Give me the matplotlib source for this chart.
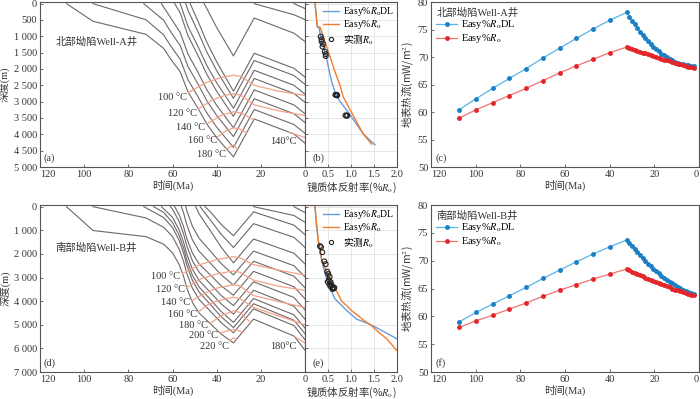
import numpy as np
import matplotlib
matplotlib.use("Agg")
import matplotlib.pyplot as plt
from matplotlib.lines import Line2D
from matplotlib.ticker import FuncFormatter

plt.rcParams['font.family'] = ['Liberation Serif', 'Noto Sans CJK SC']
plt.rcParams['mathtext.fontset'] = 'stix'
plt.rcParams['font.size'] = 7.5
plt.rcParams['axes.unicode_minus'] = False

CJK = 'Noto Sans CJK SC'

# ---------------- (a) Well-A burial history (time Ma, depth m)
a_times = [
    [108, 96, 72, 64, 61, 56.5, 53, 48.3, 44.5, 40, 32.4, 23, 5, 0],
    [96, 72, 64, 61, 56.5, 53, 48.3, 44.5, 40, 32.4, 23, 5, 0],
    [73, 64, 61, 56.5, 53, 48.3, 44.5, 40, 32.4, 23, 5, 0],
    [65, 61, 56.5, 53, 48.3, 44.5, 40, 32.4, 23, 5, 0],
    [59, 56.5, 53, 48.3, 44.5, 40, 32.4, 23, 5, 0],
    [56.5, 53, 48.3, 44.5, 40, 32.4, 23, 5, 0],
    [54, 53, 48.3, 44.5, 40, 32.4, 23, 5, 0],
    [52, 48.3, 44.5, 40, 32.4, 23, 5, 0],
    [45.7, 44.5, 40, 32.4, 23, 5, 0],
    [23, 5, 0],
    [5, 0],
]
a_depths = [
    [0, 540, 940, 1370, 1680, 2090, 2700, 3220, 3680, 4100, 4690, 3530, 3990, 4270],
    [0, 494, 956, 1278, 1705, 2329, 2868, 3342, 3780, 4400, 3240, 3700, 3970],
    [0, 509, 842, 1286, 1923, 2479, 2968, 3422, 4070, 2910, 3370, 3640],
    [0, 416, 886, 1542, 2122, 2632, 3111, 3800, 2640, 3100, 3370],
    [0, 286, 978, 1608, 2157, 2682, 3450, 2290, 2750, 3020],
    [0, 697, 1334, 1889, 2421, 3200, 2040, 2500, 2770],
    [0, 203, 885, 1475, 2049, 2900, 1740, 2200, 2470],
    [0, 561, 1176, 1780, 2680, 1520, 1980, 2250],
    [0, 145, 730, 1600, 440, 905, 1160],
    [0, 340, 490],
    [0, 150],
]
a_iso_times = [
    [52.8, 45, 38, 32.4, 29, 23, 12, 0],
    [48.3, 42, 36, 32.4, 29, 23, 12, 0],
    [44.5, 38, 32.4, 29, 23.4],
    [7, 3, 0],
    [40, 36, 32.4, 29.5, 26.4],
    [35.4, 32.4, 30.5],
]
a_iso_depths = [
    [2720, 2420, 2260, 2190, 2230, 2500, 2680, 2810],
    [3220, 2950, 2800, 2760, 2800, 3100, 3280, 3425],
    [3680, 3420, 3310, 3350, 3545],
    [3940, 4030, 4095],
    [4100, 3900, 3800, 3840, 3950],
    [4450, 4330, 4456],
]
a_iso_labels = ['100 °C', '120 °C', '140 °C', '160 °C', '180 °C', '140°C']
a_lab_t = [53.4, 49, 45.3, 40, 35.8, 3.6]
a_lab_d = [2870, 3354, 3786, 4197, 4607, 4228]

# ---------------- (d) Well-B burial history
d_times = [
    [108, 96, 72, 64, 60, 57, 55, 53.5, 51, 48, 43, 38, 32.4, 23.3, 5, 0],
    [96, 72, 64, 60, 57, 55, 53.5, 51, 48, 43, 38, 32.4, 23.3, 5, 0],
    [73, 64, 60, 57, 55, 53.5, 51, 48, 43, 38, 32.4, 23.3, 5, 0],
    [68.5, 64, 60, 57, 55, 53.5, 51, 48, 43, 38, 32.4, 23.3, 5, 0],
    [65, 60, 57, 55, 53.5, 51, 48, 43, 38, 32.4, 23.3, 5, 0],
    [61, 60, 57, 55, 53.5, 51, 48, 43, 38, 32.4, 23.3, 5, 0],
    [59, 57, 55, 53.5, 51, 48, 43, 38, 32.4, 23.3, 5, 0],
    [56, 55, 53.5, 51, 48, 43, 38, 32.4, 23.3, 5, 0],
    [54, 53.5, 51, 48, 43, 38, 32.4, 23.3, 5, 0],
    [49.5, 48, 43, 38, 32.4, 23.3, 5, 0],
    [47.5, 43, 38, 32.4, 23.3, 5, 0],
    [45.3, 43, 38, 32.4, 23.3, 5, 0],
    [23.3, 5, 0],
    [5, 0],
]
d_depths = [
    [0, 1010, 1270, 1590, 1950, 2450, 2950, 3450, 4050, 4500, 4940, 5390, 5770, 4760, 5480, 6080],
    [0, 479, 872, 1268, 1796, 2314, 2828, 3450, 3928, 4413, 4909, 5340, 4330, 5035, 5635],
    [0, 461, 882, 1427, 1958, 2480, 3118, 3614, 4129, 4655, 5120, 4110, 4807, 5379],
    [0, 247, 667, 1212, 1742, 2265, 2902, 3397, 3911, 4436, 4900, 3890, 4580, 5142],
    [0, 451, 981, 1501, 2016, 2642, 3122, 3613, 4113, 4550, 3540, 4218, 4765],
    [0, 100, 629, 1149, 1663, 2288, 2767, 3256, 3755, 4190, 3180, 3845, 4377],
    [0, 338, 845, 1351, 1960, 2421, 2880, 3349, 3750, 2740, 3390, 3902],
    [0, 260, 776, 1403, 1885, 2378, 2881, 3320, 2310, 2945, 3439],
    [0, 180, 827, 1332, 1865, 2406, 2890, 1880, 2500, 2975],
    [0, 299, 999, 1709, 2380, 1370, 1973, 2426],
    [0, 546, 1163, 1730, 720, 1300, 1725],
    [0, 203, 746, 1230, 220, 783, 1186],
    [0, 374, 662],
    [0, 250],
]
d_iso_times = [
    [55.5, 47.5, 40, 32.4, 29.4, 23.4, 12.8, 0],
    [53.6, 47, 40, 32.4, 29.4, 23.4, 12.8, 0],
    [51.3, 45, 40, 32.4, 29.4, 23.4, 12.8, 0],
    [48.3, 44, 40, 32.4, 29.4, 23.4, 12.8, 0],
    [43, 38, 32.4, 29.4, 26.5, 24.5],
    [5, 2.5, 0],
    [38.5, 35, 32.4, 30.5, 28.5],
    [34, 32.4, 31],
]
d_iso_depths = [
    [2830, 2450, 2240, 2120, 2170, 2450, 2670, 2900],
    [3420, 3050, 2850, 2720, 2780, 3110, 3350, 3550],
    [3980, 3650, 3450, 3300, 3360, 3760, 4000, 4270],
    [4455, 4150, 4000, 3830, 3900, 4260, 4600, 5000],
    [4940, 4620, 4410, 4480, 4750, 4890],
    [5480, 5630, 5775],
    [5345, 5260, 5195, 5230, 5330],
    [5661, 5560, 5615],
]
d_iso_labels = ['100 °C', '120 °C', '140 °C', '160 °C', '180 °C', '200 °C', '220 °C', '180°C']
d_lab_t = [56.6, 54.3, 52, 49, 43.8, 39.2, 34.3, 3.8]
d_lab_d = [2938, 3514, 4075, 4550, 5011, 5443, 5918, 5918]

# ---------------- (b) / (e) vitrinite reflectance profiles
b_dl_ro = [0.217, 0.239, 0.268, 0.304, 0.34, 0.399, 0.471, 0.507, 0.58, 0.67, 0.76, 0.94, 1.10, 1.27, 1.52]
b_dl_d = [0, 288, 720, 720, 1008, 1317, 1677, 1934, 2397, 2780, 2990, 3323, 3650, 3992, 4320]
b_easy_ro = [0.217, 0.239, 0.268, 0.326, 0.362, 0.471, 0.58, 0.652, 0.761, 0.833, 1.087, 1.268, 1.449]
b_easy_d = [0, 288, 700, 720, 854, 1317, 1780, 2088, 2500, 2860, 3529, 3992, 4300]
b_obs_ro = [0.34, 0.36, 0.36, 0.39, 0.38, 0.43, 0.45, 0.45, 0.66, 0.68, 0.70, 0.69, 0.88, 0.90, 0.92]
b_obs_d = [1010, 1090, 1160, 1235, 1317, 1470, 1545, 1605, 2790, 2800, 2810, 2790, 3420, 3430, 3425]

e_dl_ro = [0.217, 0.25, 0.30, 0.33, 0.36, 0.43, 0.51, 0.58, 0.65, 0.78, 0.91, 1.12, 1.41, 1.63, 2.03]
e_dl_d = [0, 800, 1650, 1900, 2250, 2800, 3300, 3600, 3900, 4150, 4400, 4760, 4980, 5200, 5630]
e_easy_ro = [0.217, 0.25, 0.29, 0.33, 0.36, 0.44, 0.51, 0.58, 0.65, 0.80, 0.91, 1.01, 1.12, 1.27, 1.41, 1.59, 1.78, 2.03]
e_easy_d = [0, 700, 1420, 1800, 2210, 2600, 2900, 3150, 3450, 4000, 4200, 4400, 4560, 4800, 4980, 5300, 5600, 6170]
e_obs_ro = [0.326, 0.348, 0.377, 0.42, 0.449, 0.486, 0.507, 0.536, 0.522, 0.493, 0.558, 0.58,
            0.601, 0.623, 0.594, 0.551, 0.529, 0.638]
e_obs_d = [1670, 1714, 1930, 2318, 2434, 2750, 2851, 2966, 3110, 3182, 3196, 3326,
           3427, 3470, 3485, 3370, 3283, 3427]

# ---------------- (c) / (f) surface heat flow history
hf_time = [107.4, 99.9, 92.4, 84.9, 77.4, 69.9, 62.4, 54.9, 47.4, 39.9, 32.4,
           31.2, 30.0, 28.8, 27.6, 26.4, 25.2, 24.0, 22.8, 21.6, 20.4, 19.2, 18.0, 16.8,
           15.6, 14.4, 13.2, 12.0, 10.8, 9.6, 8.4, 7.2, 6.0, 4.8, 3.6, 2.4]
c_dl = [60.4, 62.4, 64.3, 66.1, 67.9, 69.8, 71.6, 73.4, 75.1, 76.7, 78.1,
        77.34, 76.61, 75.91, 75.24, 74.61, 74.00, 73.43, 72.89, 72.37, 71.89, 71.44, 71.02,
        70.63, 70.28, 69.95, 69.66, 69.39, 69.16, 68.96, 68.79, 68.65, 68.54, 68.46, 68.42, 68.40]
c_easy = [58.9, 60.4, 61.7, 63.0, 64.3, 65.7, 67.1, 68.4, 69.6, 70.8, 71.8,
          71.63, 71.47, 71.30, 71.14, 70.97, 70.81, 70.65, 70.49, 70.33, 70.17, 70.01, 69.85,
          69.69, 69.54, 69.39, 69.24, 69.09, 68.94, 68.79, 68.65, 68.51, 68.37, 68.24, 68.11, 68.0]
f_dl = [59.0, 60.7, 62.2, 63.7, 65.2, 66.8, 68.3, 69.8, 71.2, 72.5, 73.7,
        73.13, 72.57, 72.02, 71.49, 70.97, 70.46, 69.96, 69.48, 69.02, 68.56, 68.12, 67.70,
        67.29, 66.90, 66.53, 66.17, 65.9, 65.6, 65.3, 65.05, 64.8, 64.6, 64.4, 64.25, 64.1]
f_easy = [58.0, 59.2, 60.2, 61.3, 62.4, 63.6, 64.7, 65.7, 66.7, 67.6, 68.5,
          68.28, 68.05, 67.83, 67.61, 67.40, 67.18, 66.97, 66.76, 66.55, 66.35, 66.14, 65.94,
          65.75, 65.56, 65.37, 65.18, 65.00, 64.82, 64.65, 64.48, 64.32, 64.17, 64.03, 63.90, 63.80]

BURIAL = '#6f6767'
ISO = '#f5a08a'
BLUE = '#6a9bd8'
ORANGE = '#f07d2e'
TXT = '#333333'
SPINE = '#555555'

dl_label = r'Easy%$R_{\rm o}$DL'
easy_label = r'Easy%$R_{\rm o}$'
obs_label = r'实测$R_{\rm o}$'


def thousands(v, pos):
    return f"{int(round(v)):,}".replace(',', ' ')


def style(ax):
    for s in ax.spines.values():
        s.set_color(SPINE)
        s.set_linewidth(0.8)
    ax.tick_params(direction='in', length=2.5, width=0.6, colors=SPINE,
                   labelcolor=TXT, labelsize=7.5, pad=2)


def burial(ax, times, depths, iso_t, iso_d, labs, lab_t, lab_d, well, well_d, ymax, ystep, tag):
    for t, d in zip(times, depths):
        ax.plot(t, d, color=BURIAL, lw=0.8)
    for t, d in zip(iso_t, iso_d):
        ax.plot(t, d, color=ISO, lw=0.9)
    for s, t, d in zip(labs, lab_t, lab_d):
        ax.text(t, d, s, ha='right', va='center', fontsize=7.5, color=TXT)
    ax.text(113, well_d, well, fontsize=7.5, color=TXT, va='center', ha='left')
    ax.text(0.015, 0.035, tag, transform=ax.transAxes, fontsize=7.5, color=TXT)
    ax.set_xlim(120, 0)
    ax.set_ylim(ymax, -ymax * 0.01)
    ax.set_yticks(np.arange(0, ymax + 1, ystep))
    ax.yaxis.set_major_formatter(FuncFormatter(thousands))
    ax.set_xticks([120, 100, 80, 60, 40, 20])
    ax.set_xticklabels(['120', '100', '80', '60', '40', '20'])
    ax.get_xticklabels()[0].set_ha('left')
    ax.set_xlabel('时间(Ma)', fontsize=7.5, color=TXT, labelpad=1)
    ax.set_ylabel('深度(m)', fontsize=7.5, color=TXT, labelpad=2)
    style(ax)


def ro_panel(ax, dl_ro, dl_d, easy_ro, easy_d, obs_ro, obs_d, ymax, ystep, tag):
    ax.plot(dl_ro, dl_d, color=BLUE, lw=1.0)
    ax.plot(easy_ro, easy_d, color=ORANGE, lw=1.0)
    ax.scatter(obs_ro, obs_d, s=12, facecolors='none', edgecolors='#222222', linewidths=0.8,
               zorder=3)
    ax.set_xlim(0, 2.0)
    ax.set_ylim(ymax, -ymax * 0.01)
    ax.set_yticks(np.arange(0, ymax + 1, ystep))
    ax.tick_params(labelleft=False)
    ax.set_xticks([0, 0.5, 1.0, 1.5, 2.0])
    ax.set_xticklabels(['0', '0.5', '1.0', '1.5', '2.0'])
    ax.grid(color='#dcdcdc', lw=0.5)
    ax.set_axisbelow(True)
    ax.set_xlabel(r'镜质体反射率(%$R_{\rm o}$)', fontsize=7.5, color=TXT, labelpad=1,
                  family=CJK)
    ax.text(0.08, 0.035, tag, transform=ax.transAxes, fontsize=7.5, color=TXT)
    handles = [Line2D([], [], color=BLUE, lw=1.0),
               Line2D([], [], color=ORANGE, lw=1.0),
               Line2D([], [], ls='none', marker='o', ms=3, mfc='none', mec='#222222', mew=0.8)]
    leg = ax.legend(handles, [dl_label, easy_label, obs_label], loc='upper right', frameon=False,
                    fontsize=7, handlelength=1.6, handletextpad=0.4, labelspacing=0.05,
                    borderpad=0.2, borderaxespad=0.1)
    leg.get_texts()[2].set_family(CJK)
    style(ax)


def heat_panel(ax, dl, easy, well, tag):
    ax.plot(hf_time, dl, color='#55b6ea', lw=0.9, marker='o', ms=2.5,
            mfc='#1b7fc6', mec='#1b7fc6', label=dl_label)
    ax.plot(hf_time, easy, color='#f27070', lw=0.9, marker='o', ms=2.5,
            mfc='#e3262a', mec='#e3262a', label=easy_label)
    ax.set_xlim(120, 0)
    ax.set_ylim(50, 80)
    ax.set_yticks([50, 55, 60, 65, 70, 75, 80])
    ax.set_xticks([120, 100, 80, 60, 40, 20, 0])
    ax.set_xticklabels(['120', '100', '80', '60', '40', '20', '0'])
    ax.get_xticklabels()[0].set_ha('left')
    ax.get_xticklabels()[-1].set_ha('right')
    ax.set_xlabel('时间(Ma)', fontsize=7.5, color=TXT, labelpad=1)
    ax.set_ylabel('地表热流(mW/m$^2$)', fontsize=7.5, color=TXT, labelpad=2, family=CJK)
    ax.text(0.015, 0.035, tag, transform=ax.transAxes, fontsize=7.5, color=TXT)
    leg = ax.legend(title=well, loc='upper left', frameon=False, fontsize=7.5,
                    title_fontsize=7.5, handlelength=2.0, handletextpad=0.4,
                    labelspacing=0.1, borderpad=0.2, borderaxespad=0.3, alignment='left')
    leg.get_title().set_color(TXT)
    style(ax)


fig = plt.figure(figsize=(7, 3.99), dpi=100)
W, H = 700.0, 399.0

ax_a = fig.add_axes([40 / W, 1 - 167 / H, 265 / W, 165 / H])
ax_b = fig.add_axes([305 / W, 1 - 167 / H, 92 / W, 165 / H])
ax_c = fig.add_axes([431 / W, 1 - 167 / H, 268 / W, 165 / H])
ax_d = fig.add_axes([40 / W, 1 - 372 / H, 265 / W, 167 / H])
ax_e = fig.add_axes([305 / W, 1 - 372 / H, 92 / W, 167 / H])
ax_f = fig.add_axes([431 / W, 1 - 372 / H, 268 / W, 167 / H])

burial(ax_a, a_times, a_depths, a_iso_times, a_iso_depths, a_iso_labels, a_lab_t, a_lab_d,
       '北部坳陷Well-A井', 1175, 5000, 500, '(a)')
burial(ax_d, d_times, d_depths, d_iso_times, d_iso_depths, d_iso_labels, d_lab_t, d_lab_d,
       '南部坳陷Well-B井', 1741, 7000, 1000, '(d)')
ro_panel(ax_b, b_dl_ro, b_dl_d, b_easy_ro, b_easy_d, b_obs_ro, b_obs_d, 5000, 500, '(b)')
ro_panel(ax_e, e_dl_ro, e_dl_d, e_easy_ro, e_easy_d, e_obs_ro, e_obs_d, 7000, 1000, '(e)')
heat_panel(ax_c, c_dl, c_easy, '北部坳陷Well-A井', '(c)')
heat_panel(ax_f, f_dl, f_easy, '南部坳陷Well-B井', '(f)')

fig.savefig('out.png', dpi=100)
